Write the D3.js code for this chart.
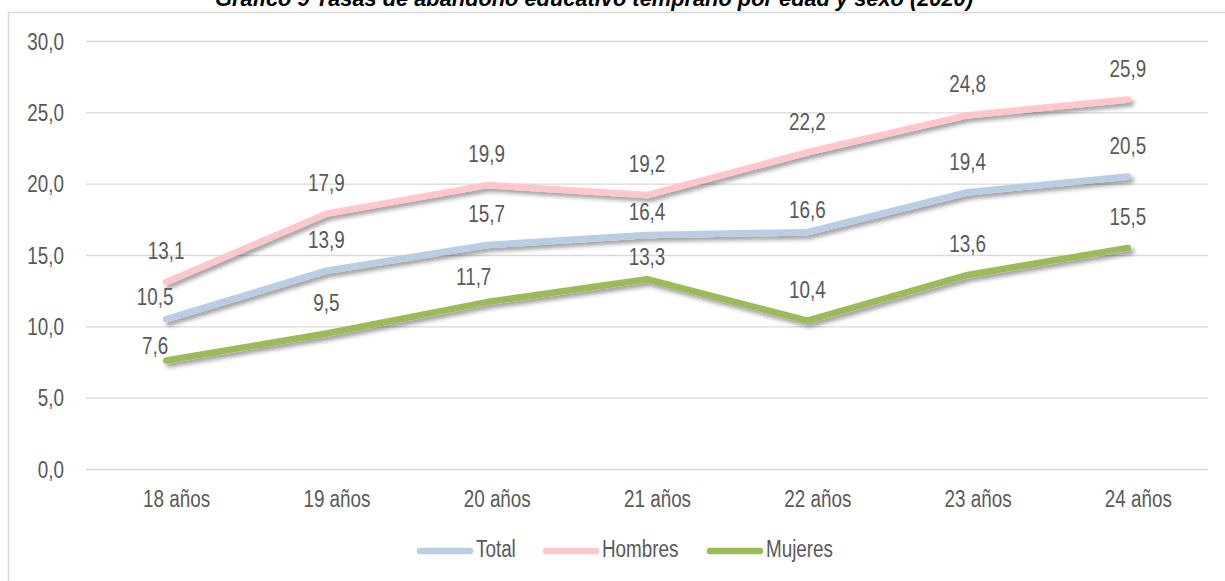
<!DOCTYPE html>
<html>
<head>
<meta charset="utf-8">
<script src="https://cdn.jsdelivr.net/npm/d3@7"></script>
<style>
  html, body { margin: 0; padding: 0; background: #fff; }
  svg { display: block; }
  text { font-family: "Liberation Sans Narrow", "Arial Narrow", "Liberation Sans", Arial, sans-serif; }
</style>
</head>
<body>
<svg id="chart" width="1225" height="581"></svg>
<script>
const title = "Gráfico 9 Tasas de abandono educativo temprano por edad y sexo (2020)";
const categories = ["18 años", "19 años", "20 años", "21 años", "22 años", "23 años", "24 años"];
const seriesNames = ["Total", "Hombres", "Mujeres"];
const totalValues = [10.5, 13.9, 15.7, 16.4, 16.6, 19.4, 20.5];
const hombresValues = [13.1, 17.9, 19.9, 19.2, 22.2, 24.8, 25.9];
const mujeresValues = [7.6, 9.5, 11.7, 13.3, 10.4, 13.6, 15.5];
const yTicks = [0, 5, 10, 15, 20, 25, 30];

const colors = { "Total": "#b9cde5", "Hombres": "#ffc7cb", "Mujeres": "#9bbb59" };
const series = [
  { name: "Total", values: totalValues },
  { name: "Hombres", values: hombresValues },
  { name: "Mujeres", values: mujeresValues }
];

// label placement tweaks (layout only)
const labelTweak = {
  "Total": { 0: [-11, -22], 3: [0, -23], 4: [0, -22] },
  "Mujeres": { 0: [-11, -14.5], 2: [-13, -25], 3: [0, -22.5] }
};

const fmt = v => d3.format(".1f")(v).replace(".", ",");
const svg = d3.select("#chart");
const textColor = "#595959";
const FS = 23;

// condense text horizontally (narrow font not installed)
let SX = 0.82;
(function detectNarrow() {
  const t = svg.append("text").attr("font-size", 100).text("0000000000");
  const w = t.node().getComputedTextLength();
  t.remove();
  // Arial/Liberation Sans digits = 0.556em; Narrow = 0.456em
  if (w < 500) SX = 1;
})();
function condense(sel) {
  sel.each(function () {
    const el = d3.select(this);
    const tx = +(el.attr("x") || 0), ty = +(el.attr("y") || 0);
    el.attr("transform", `translate(${tx},${ty}) scale(${SX},1) translate(${-tx},${-ty})`);
  });
}

const x = d3.scalePoint().domain(categories).range([86, 1208]).padding(0.5);
const y = d3.scaleLinear().domain([0, 30]).range([469, 41]);

// shadow filter
const defs = svg.append("defs");
const f = defs.append("filter").attr("id", "shadow").attr("x", "-10%").attr("y", "-20%").attr("width", "130%").attr("height", "160%");
f.append("feDropShadow").attr("dx", 3).attr("dy", 3.5).attr("stdDeviation", 2.2)
  .attr("flood-color", "#000").attr("flood-opacity", 0.38);

// frame
svg.append("path").attr("d", "M8.5,581 L8.5,12.5 L1225,12.5")
  .attr("fill", "none").attr("stroke", "#d9d9d9").attr("stroke-width", 1.5);

// title (cut at the top edge as in the source)
svg.append("text").attr("x", 215).attr("y", 6)
  .attr("textLength", 758).attr("lengthAdjust", "spacingAndGlyphs")
  .attr("font-size", 22).attr("font-weight", "bold").attr("font-style", "italic")
  .attr("fill", "#000").text(title);

// gridlines + y ticks
const yAxis = d3.axisLeft(y).tickValues(yTicks).tickSize(-(1208 - 86)).tickFormat(fmt).tickPadding(22);
const gy = svg.append("g").attr("transform", "translate(86,0)").call(yAxis);
gy.select(".domain").remove();
gy.selectAll(".tick line").attr("stroke", "#d9d9d9").attr("stroke-width", 1.3);
gy.selectAll(".tick text").attr("font-size", FS).attr("fill", textColor)
  .attr("font-family", null)
  .attr("dy", "0.36em").attr("x", -22).attr("y", 0);
condense(gy.selectAll(".tick text"));

// x axis labels
const xAxis = d3.axisBottom(x).tickSize(0).tickPadding(0);
const gx = svg.append("g").attr("transform", "translate(0,469)").call(xAxis);
gx.select(".domain").remove();
gx.selectAll(".tick text").attr("font-size", FS).attr("fill", textColor)
  .attr("font-family", null)
  .attr("y", 38).attr("dy", 0).attr("x", 10);
condense(gx.selectAll(".tick text"));

// lines
const line = d3.line().x((d, i) => x(categories[i])).y(d => y(d));
const gLines = svg.append("g");
series.forEach(s => {
  gLines.append("path").datum(s.values)
    .attr("d", line)
    .attr("fill", "none")
    .attr("stroke", colors[s.name])
    .attr("stroke-width", 6.5)
    .attr("stroke-linecap", "round")
    .attr("stroke-linejoin", "round")
    .attr("filter", "url(#shadow)");
});

// data labels
const gLabels = svg.append("g");
series.forEach(s => {
  s.values.forEach((v, i) => {
    const tw = (labelTweak[s.name] || {})[i] || [0, -31];
    gLabels.append("text")
      .attr("x", x(categories[i]) + tw[0])
      .attr("y", y(v) + tw[1])
      .attr("dy", "0.36em")
      .attr("text-anchor", "middle")
      .attr("font-size", FS).attr("fill", textColor)
      .text(fmt(v));
  });
});
condense(gLabels.selectAll("text"));

// legend
const legendItems = [
  { name: "Total", x0: 417 },
  { name: "Hombres", x0: 543 },
  { name: "Mujeres", x0: 707 }
];
const gLeg = svg.append("g");
legendItems.forEach(it => {
  gLeg.append("line").attr("x1", it.x0 + 3).attr("x2", it.x0 + 53)
    .attr("y1", 551).attr("y2", 551)
    .attr("stroke", colors[it.name]).attr("stroke-width", 6.5).attr("stroke-linecap", "round");
  gLeg.append("text").attr("x", it.x0 + 59).attr("y", 557)
    .attr("font-size", FS).attr("fill", textColor).text(it.name);
});
condense(gLeg.selectAll("text"));
</script>
</body>
</html>
